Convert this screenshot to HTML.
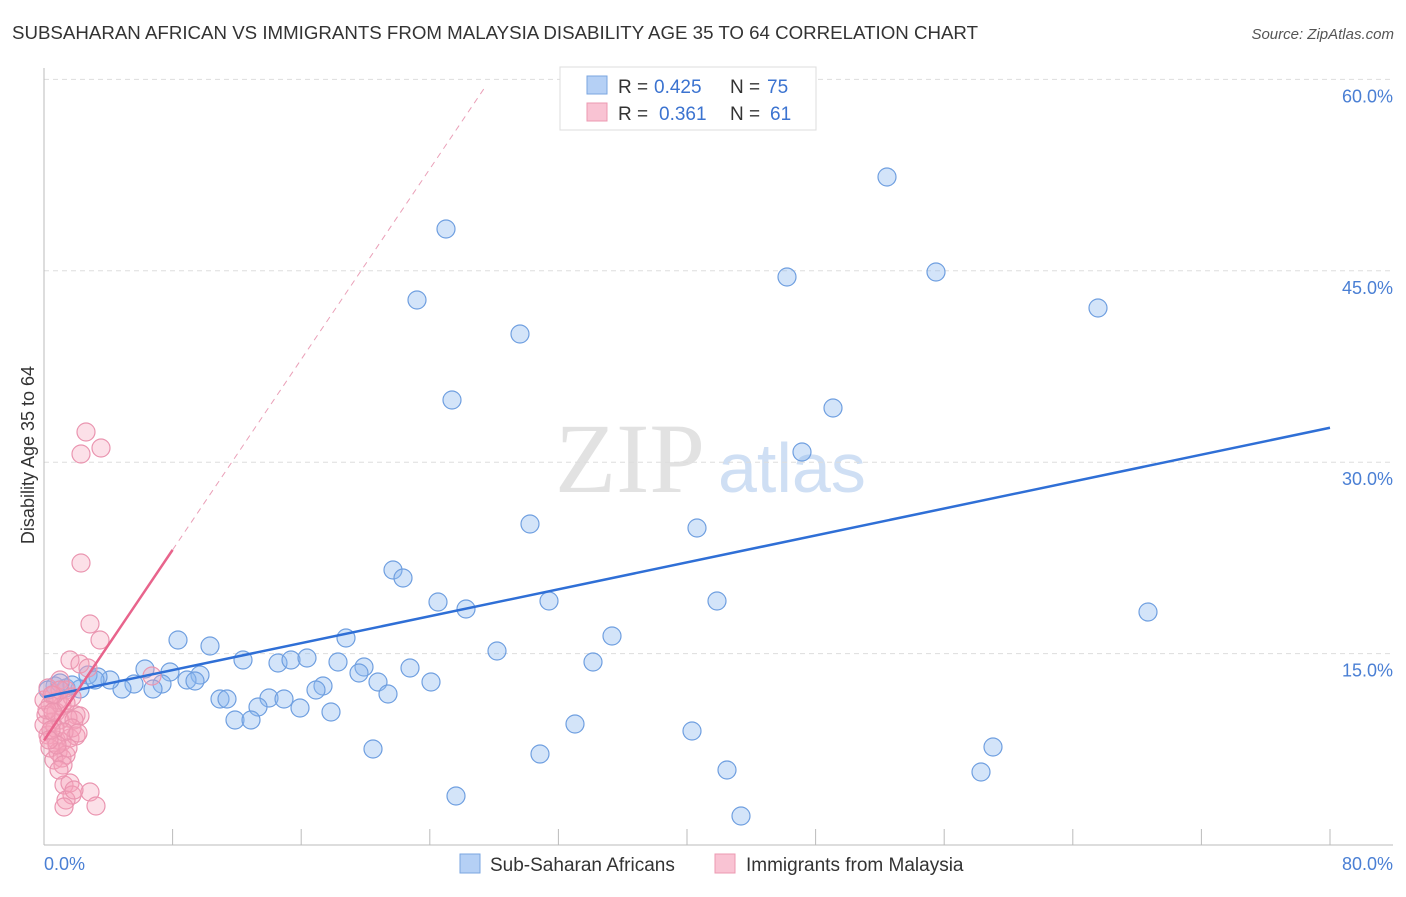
<!DOCTYPE html>
<html><head><meta charset="utf-8"><style>
body{margin:0;background:#fff;font-family:"Liberation Sans",sans-serif}
</style></head><body>
<svg id="c" width="1406" height="892" xmlns="http://www.w3.org/2000/svg">
<text x="12" y="39" font-size="18" fill="#333" textLength="966" lengthAdjust="spacingAndGlyphs">SUBSAHARAN AFRICAN VS IMMIGRANTS FROM MALAYSIA DISABILITY AGE 35 TO 64 CORRELATION CHART</text>
<text x="1394" y="39" font-size="15" fill="#555" font-style="italic" text-anchor="end">Source: ZipAtlas.com</text>
<text x="555" y="492" font-size="100" fill="#e2e2e2" font-family="Liberation Serif,serif">ZIP</text>
<text x="718" y="492" font-size="70" fill="#cfdff4">atlas</text>
<text transform="translate(34,455) rotate(-90)" font-size="18" fill="#333" text-anchor="middle">Disability Age 35 to 64</text>
<g id="grid"></g><g id="marks"></g>
<g>
<rect x="560" y="67" width="256" height="63" fill="#fff" stroke="#ddd"/>
<rect x="587" y="76" width="20" height="18" fill="#b5d0f5" stroke="#7aa6e0"/>
<rect x="587" y="103" width="20" height="18" fill="#f9c3d3" stroke="#ec98b2"/>
<text x="618" y="93" font-size="19" fill="#333">R =</text>
<text x="654" y="93" font-size="19" fill="#3b73d0">0.425</text>
<text x="730" y="93" font-size="19" fill="#333">N =</text>
<text x="767" y="93" font-size="19" fill="#3b73d0">75</text>
<text x="618" y="120" font-size="19" fill="#333">R =</text>
<text x="659" y="120" font-size="19" fill="#3b73d0">0.361</text>
<text x="730" y="120" font-size="19" fill="#333">N =</text>
<text x="770" y="120" font-size="19" fill="#3b73d0">61</text>
</g>
<g>
<rect x="460" y="854" width="20" height="19" fill="#b5d0f5" stroke="#7aa6e0"/>
<text x="490" y="871" font-size="19" fill="#333">Sub-Saharan Africans</text>
<rect x="715" y="854" width="20" height="19" fill="#f9c3d3" stroke="#ec98b2"/>
<text x="746" y="871" font-size="19" fill="#333">Immigrants from Malaysia</text>
</g>
</svg>
<script>
const yTicks=[15,30,45,60];
const xTickCount=10;
const blueXpx=[887,446,936,787,417,1098,520,452,833,802,530,697,393,403,438,466,549,717,1148,612,178,210,346,497,243,278,291,307,338,364,359,410,593,145,170,200,187,195,162,153,134,122,110,98,88,80,66,55,48,378,431,323,316,388,220,227,269,284,258,300,331,235,251,575,692,373,540,993,727,981,456,741,72,60,95];
const blueYpx=[177,229,272,277,300,308,334,400,408,452,524,528,570,578,602,609,601,601,612,636,640,646,638,651,660,663,660,658,662,667,673,668,662,669,672,675,680,681,684,689,684,689,680,677,675,689,688,686,690,682,682,686,690,694,699,699,698,699,707,708,712,720,720,724,731,749,754,747,770,772,796,816,685,683,680];
const pinkXpx=[86,101,81,81,90,100,70,80,88,152,60,66,72,50,56,62,76,80,52,60,68,74,48,56,62,70,76,50,58,66,54,62,72,46,55,64,78,58,44,66,54,48,60,64,70,72,66,90,96,74,64,52,44,68,47,57,63,51,49,59,53];
const pinkYpx=[432,448,454,563,624,640,660,664,668,676,680,690,697,705,712,706,715,716,722,720,718,720,735,740,742,738,736,748,752,755,760,758,728,715,728,732,733,700,700,703,695,688,690,785,783,795,800,792,806,790,807,695,725,748,710,745,765,730,740,770,712];
const X0=44,XS=16.075,Y0=845,YS=12.76;
const blueX=blueXpx.map(p=>(p-X0)/XS), blueY=blueYpx.map(p=>(Y0-p)/YS);
const pinkX=pinkXpx.map(p=>(p-X0)/XS), pinkY=pinkYpx.map(p=>(Y0-p)/YS);
const blueTrend=[11.6,32.7];
const pinkTrend=[8.2,1.866];
const sx=v=>X0+v*XS, sy=v=>Y0-v*YS;
const NS='http://www.w3.org/2000/svg';
const g=document.getElementById('grid'), m=document.getElementById('marks');
function mk(tag,at,par){const e=document.createElementNS(NS,tag);for(const k in at)e.setAttribute(k,at[k]);par.appendChild(e);return e;}
yTicks.forEach(t=>{
 const l=mk('line',{x1:44,x2:1393,y1:sy(t),y2:sy(t),stroke:'#ddd','stroke-dasharray':'5,4'},g);
 
 
 const tx=mk('text',{x:1393,y:sy(t)+23,'font-size':18,fill:'#4a7fd4','text-anchor':'end'},g);
 tx.textContent=t.toFixed(1)+'%';
 
 
});
mk('line',{x1:44,x2:44,y1:68,y2:845,stroke:'#bbb'},g);
mk('line',{x1:44,x2:1393,y1:845,y2:845,stroke:'#bbb'},g);
for(let i=1;i<=xTickCount;i++){const x=sx(i*8);mk('line',{x1:x,x2:x,y1:829,y2:845,stroke:'#bbb'},g);}
const x0l=mk('text',{x:44,y:870,'font-size':18,fill:'#4a7fd4'},g);x0l.textContent='0.0%';


const x1l=mk('text',{x:1393,y:870,'font-size':18,fill:'#4a7fd4','text-anchor':'end'},g);x1l.textContent='80.0%';


blueX.forEach((v,i)=>{const c=mk('circle',{cx:sx(v),cy:sy(blueY[i]),r:9,fill:'rgba(140,185,240,0.38)',stroke:'#6f9fe0','stroke-width':1.2},m);
 
 });
pinkX.forEach((v,i)=>{const c=mk('circle',{cx:sx(v),cy:sy(pinkY[i]),r:9,fill:'rgba(245,160,185,0.33)',stroke:'#ea95b0','stroke-width':1.2},m);
 
 });
const bl=mk('line',{x1:sx(0),y1:sy(blueTrend[0]),x2:sx(80),y2:sy(blueTrend[1]),stroke:'#2f6fd6','stroke-width':2.5},m);


const pe=8.0, pd=(59.5-pinkTrend[0])/pinkTrend[1];
const pl=mk('line',{x1:sx(0),y1:sy(pinkTrend[0]),x2:sx(pe),y2:sy(pinkTrend[0]+pinkTrend[1]*pe),stroke:'#e8648c','stroke-width':2.5},m);


const pdl=mk('line',{x1:sx(pe),y1:sy(pinkTrend[0]+pinkTrend[1]*pe),x2:sx(pd),y2:sy(59.5),stroke:'#eaa0b8','stroke-width':1,'stroke-dasharray':'6,5'},m);


</script>
</body></html>
